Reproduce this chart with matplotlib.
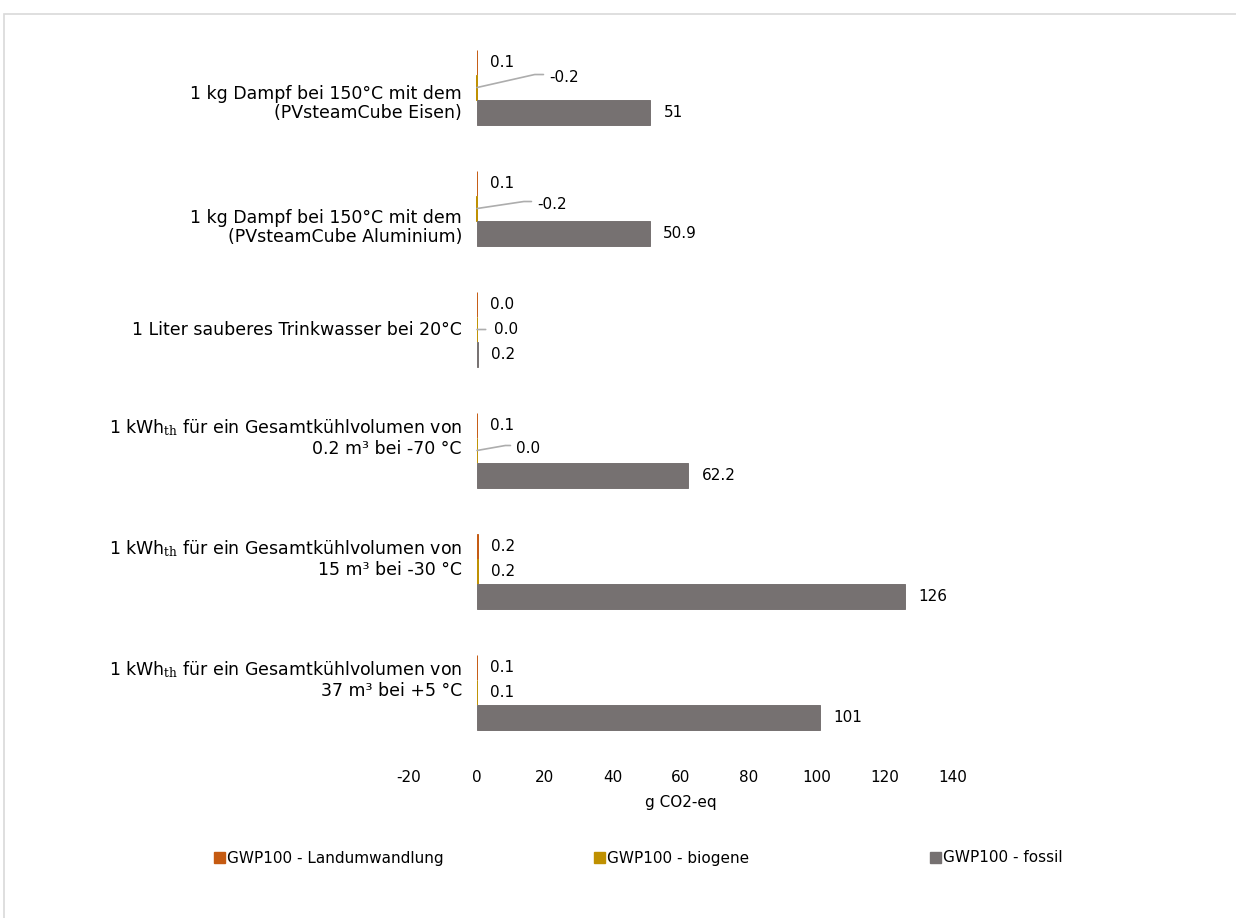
import numpy as np
import matplotlib
matplotlib.use("Agg")
import matplotlib.pyplot as plt
from matplotlib.patches import Rectangle, Patch

plt.rcParams['font.family'] = ['DejaVu Sans']
plt.rcParams['mathtext.fontset'] = 'dejavuserif'

categories = [
    "1 kg Dampf bei 150°C mit dem\n(PVsteamCube Eisen)",
    "1 kg Dampf bei 150°C mit dem\n(PVsteamCube Aluminium)",
    "1 Liter sauberes Trinkwasser bei 20°C",
    "1 kWh$_{\\mathrm{th}}$ für ein Gesamtkühlvolumen von\n0.2 m³ bei -70 °C",
    "1 kWh$_{\\mathrm{th}}$ für ein Gesamtkühlvolumen von\n15 m³ bei -30 °C",
    "1 kWh$_{\\mathrm{th}}$ für ein Gesamtkühlvolumen von\n37 m³ bei +5 °C",
]
series_names = ["GWP100 - Landumwandlung", "GWP100 - biogene", "GWP100 - fossil"]
landumwandlung = [0.1, 0.1, 0.0, 0.1, 0.2, 0.1]
biogene = [-0.2, -0.2, 0.0, 0.0, 0.2, 0.1]
fossil = [51, 50.9, 0.2, 62.2, 126, 101]
x_ticks = [-20, 0, 20, 40, 60, 80, 100, 120, 140]

colors = ["#C55A11", "#BF9000", "#767171"]
leader_color = "#ADADAD"

# moved data labels with leader lines: (dx, dy, leader angle) in pixels/degrees
moved = {(0, 1): (72, 10, 12.7), (1, 1): (60, 4, 8.5), (2, 1): (17, 0, 0), (3, 1): (39, 2, 10)}
cat_label_dy = [-16, -19, 0, 13, 13, 13]
legend_x = [214, 594, 930]

fig = plt.figure(figsize=(12.36, 9.18), dpi=100)
ax = fig.add_axes([409 / 1236, 1 - 752 / 918, 544 / 1236, 724 / 918])

fig.patches.append(Rectangle((4 / 1236, -0.05), 1.1, 1 - 14 / 918 + 0.05,
                             transform=fig.transFigure, fill=False,
                             edgecolor="#D9D9D9", lw=1.2))

y = np.arange(len(categories))
h = 0.206
all_series = [landumwandlung, biogene, fossil]
for s, vals in enumerate(all_series):
    yy = y + (s - 1) * h
    ax.barh(yy, vals, height=h, color=colors[s], edgecolor=colors[s], lw=0.7,
            label=series_names[s])
    for i, v in enumerate(vals):
        key = (i, s)
        if key in moved:
            dx, dy, ang = moved[key]
            conn = f"angle,angleA=0,angleB={ang},rad=0" if ang else "arc3"
            ax.annotate(f"{v:.1f}", xy=(max(v, 0), yy[i]), xytext=(dx, dy),
                        textcoords="offset pixels", ha="left", va="center",
                        fontsize=11,
                        arrowprops=dict(arrowstyle="-", color=leader_color, lw=1.2,
                                        shrinkA=2 if ang else 4, shrinkB=0,
                                        relpos=(0, 0.7 if ang else 0.5),
                                        connectionstyle=conn))
        else:
            txt = f"{v:g}" if s == 2 and v >= 1 else f"{v:.1f}"
            ax.annotate(txt, xy=(max(v, 0), yy[i]), xytext=(13, 0),
                        textcoords="offset pixels", ha="left", va="center",
                        fontsize=11)

for i, cat in enumerate(categories):
    ax.annotate(cat, xy=(0, y[i]), xytext=(-15, cat_label_dy[i]),
                textcoords="offset pixels", ha="right", va="center",
                fontsize=12.5, linespacing=1.1)

ax.set_xlim(-20, 140)
ax.set_ylim(len(categories) - 0.508, -0.492)
ax.set_xticks(x_ticks)
ax.set_xticklabels([str(t) for t in x_ticks], fontsize=11)
ax.tick_params(axis="x", length=0, pad=13)
ax.set_yticks([])
for sp in ax.spines.values():
    sp.set_visible(False)
ax.set_xlabel("g CO2-eq", fontsize=11, labelpad=7)

for c, name, lx in zip(colors, series_names, legend_x):
    fig.legend([Patch(color=c)], [name], loc="center left",
               bbox_to_anchor=(lx / 1236, 1 - 858 / 918), frameon=False,
               fontsize=11, handlelength=0.7, handleheight=0.7,
               handletextpad=0.15, borderpad=0, borderaxespad=0)

fig.savefig("out.png", dpi=100)
